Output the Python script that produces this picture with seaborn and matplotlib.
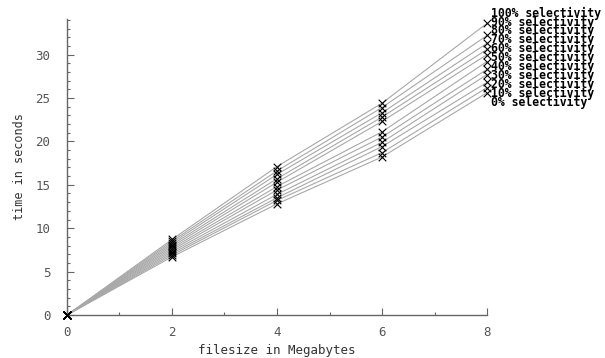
import matplotlib
matplotlib.use("Agg")
import matplotlib.pyplot as plt
import seaborn as sns
import pandas as pd
from matplotlib.ticker import MultipleLocator

# filesize in MB
filesize = [0, 2, 4, 6, 8]

# time in seconds per selectivity level
sel_0 = [0, 6.7, 12.8, 18.2, 25.6]
sel_10 = [0, 6.9, 13.2, 18.7, 26.2]
sel_20 = [0, 7.1, 13.5, 19.4, 26.8]
sel_30 = [0, 7.3, 13.9, 19.9, 27.7]
sel_40 = [0, 7.5, 14.4, 20.5, 28.3]
sel_50 = [0, 7.7, 14.8, 21.1, 29.2]
sel_60 = [0, 7.9, 15.3, 22.3, 30.0]
sel_70 = [0, 8.1, 15.7, 22.8, 30.6]
sel_80 = [0, 8.3, 16.2, 23.3, 31.3]
sel_90 = [0, 8.5, 16.6, 23.9, 32.2]
sel_100 = [0, 8.7, 17.1, 24.4, 33.6]

labels = ["0% selectivity", "10% selectivity", "20% selectivity", "30% selectivity",
          "40% selectivity", "50% selectivity", "60% selectivity", "70% selectivity",
          "80% selectivity", "90% selectivity", "100% selectivity"]
series = [sel_0, sel_10, sel_20, sel_30, sel_40, sel_50,
          sel_60, sel_70, sel_80, sel_90, sel_100]

rows = []
for lab, vals in zip(labels, series):
    for x, y in zip(filesize, vals):
        rows.append({"filesize": x, "time": y, "selectivity": lab})
df = pd.DataFrame(rows)

sns.set_style("white")
plt.rcParams['font.family'] = ['DejaVu Sans Mono']

fig = plt.figure(figsize=(6.05, 3.58), dpi=100)
ax = fig.add_axes([0.1107, 0.1201, 0.805 - 0.1107, 0.947 - 0.1201])

sns.lineplot(data=df, x="filesize", y="time", hue="selectivity",
             palette=["#a8a8a8"] * len(labels), linewidth=0.8,
             legend=False, ax=ax, sort=False)
sns.scatterplot(data=df, x="filesize", y="time", marker="x", color="black",
                s=30, linewidth=0.8, legend=False, ax=ax, zorder=3, clip_on=False)

ax.set_xlim(0, 8)
ax.set_ylim(0, 34.1)
ax.xaxis.set_major_locator(MultipleLocator(2))
ax.xaxis.set_minor_locator(MultipleLocator(1))
ax.yaxis.set_major_locator(MultipleLocator(5))
ax.yaxis.set_minor_locator(MultipleLocator(1))
ax.tick_params(which="both", direction="in", bottom=True, left=True,
               colors="#666666", labelcolor="#555555", labelsize=9, width=0.8)
ax.tick_params(which="major", length=5)
ax.tick_params(which="minor", length=2.5)
ax.tick_params(axis="y", which="major", pad=12)
ax.tick_params(axis="x", which="major", pad=8)
for side in ["top", "right"]:
    ax.spines[side].set_visible(False)
for side in ["left", "bottom"]:
    ax.spines[side].set_color("#666666")
    ax.spines[side].set_linewidth(1.0)

ax.set_xlabel("filesize in Megabytes", fontsize=9, color="#333333")
ax.set_ylabel("time in seconds", fontsize=8.5, color="#333333")
ax.xaxis.set_label_coords(0.5, -0.098)
ax.yaxis.set_label_coords(-0.098, 0.5)

# labels stacked to the right of the plot, top = 100%
for i, lab in enumerate(reversed(labels)):
    ax.text(1.0095, 1.02 - i * 0.0301, lab, transform=ax.transAxes,
            fontsize=8.3, fontweight="bold", color="black",
            ha="left", va="center", clip_on=False)

fig.savefig("out.png", dpi=100)
